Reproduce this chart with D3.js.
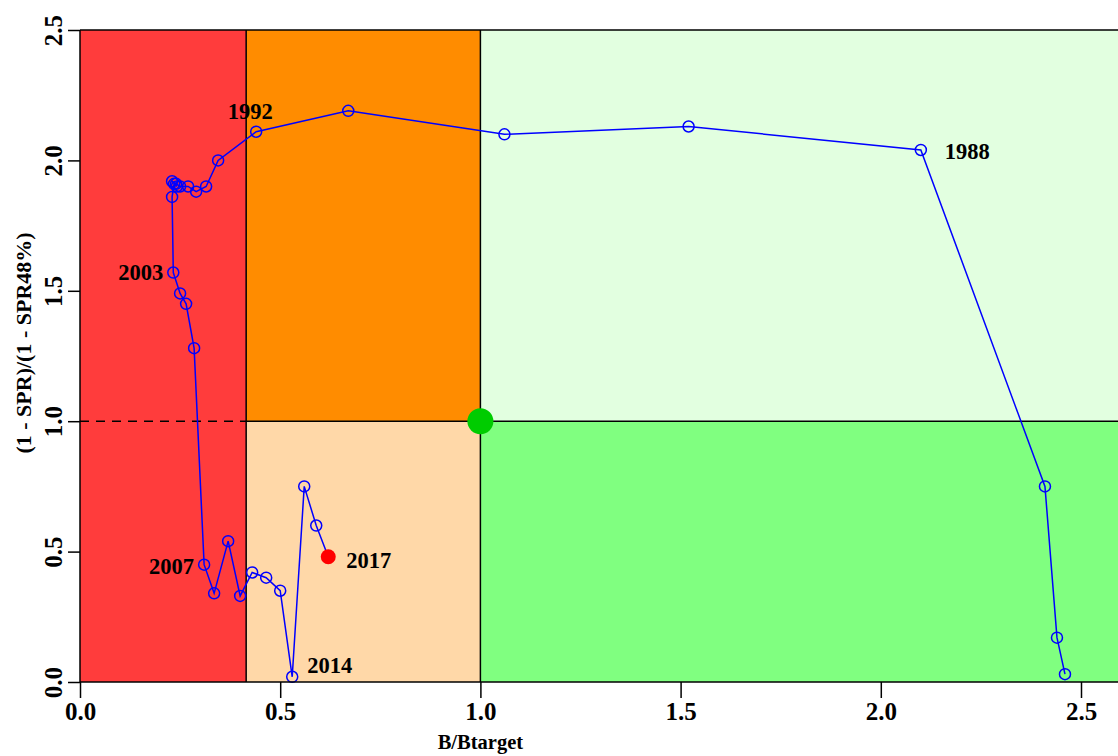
<!DOCTYPE html>
<html>
<head>
<meta charset="utf-8">
<script src="https://cdn.jsdelivr.net/npm/d3@7"></script>
<style>
  html, body { margin: 0; padding: 0; background: #ffffff; }
  svg { display: block; }
  text { font-family: "Liberation Serif", "Times New Roman", serif; font-weight: bold; fill: #000; }
</style>
</head>
<body>
<svg id="chart" width="1118" height="756"></svg>
<script>
// Stock trajectory: relative biomass vs relative fishing pressure, 1985-2017
const years = [1985, 1986, 1987, 1988, 1989, 1990, 1991, 1992, 1993, 1994,
               1995, 1996, 1997, 1998, 1999, 2000, 2001, 2002, 2003, 2004,
               2005, 2006, 2007, 2008, 2009, 2010, 2011, 2012, 2013, 2014,
               2015, 2016, 2017];
const bRatio = [2.46, 2.44, 2.41, 2.10, 1.52, 1.06, 0.67, 0.44, 0.345, 0.315,
                0.29, 0.27, 0.25, 0.24, 0.23, 0.242, 0.235, 0.23, 0.233, 0.25,
                0.265, 0.285, 0.31, 0.335, 0.37, 0.40, 0.43, 0.465, 0.50, 0.53,
                0.56, 0.59, 0.62];
const fRatio = [0.03, 0.17, 0.75, 2.04, 2.13, 2.10, 2.19, 2.11, 2.00, 1.90,
                1.88, 1.90, 1.90, 1.91, 1.92, 1.90, 1.91, 1.86, 1.57, 1.49,
                1.45, 1.28, 0.45, 0.34, 0.54, 0.33, 0.42, 0.40, 0.35, 0.02,
                0.75, 0.60, 0.48];
const labelledYears = [1988, 1992, 2003, 2007, 2014, 2017];

const xTicks = [0.0, 0.5, 1.0, 1.5, 2.0, 2.5];
const yTicks = [0.0, 0.5, 1.0, 1.5, 2.0, 2.5];

// Reference points
const bLimit = 0.415;   // limit biomass relative to target
const bTarget = 1.0;
const fTarget = 1.0;

const svg = d3.select("#chart");
const x = d3.scaleLinear().domain([0, 2.6]).range([80, 80 + 2.6 * 400.4]);
const y = d3.scaleLinear().domain([0, 2.5]).range([682, 30]);
const xMax = 2.6, yMax = 2.5;

// Status zones
const zones = [
  { x0: 0, x1: bLimit, y0: 0, y1: yMax, fill: "#ff3c3c" },
  { x0: bLimit, x1: bTarget, y0: fTarget, y1: yMax, fill: "#ff8c00" },
  { x0: bLimit, x1: bTarget, y0: 0, y1: fTarget, fill: "#ffd8a8" },
  { x0: bTarget, x1: xMax, y0: fTarget, y1: yMax, fill: "#e2ffe0" },
  { x0: bTarget, x1: xMax, y0: 0, y1: fTarget, fill: "#80ff80" }
];
svg.append("g").selectAll("rect").data(zones).join("rect")
  .attr("x", d => x(d.x0))
  .attr("y", d => y(d.y1))
  .attr("width", d => x(d.x1) - x(d.x0))
  .attr("height", d => y(d.y0) - y(d.y1))
  .attr("fill", d => d.fill);

// Zone boundary lines
const g = svg.append("g").attr("stroke", "#000").attr("stroke-width", 1.5);
g.append("line").attr("x1", x(0)).attr("x2", x(bLimit))
  .attr("y1", y(fTarget)).attr("y2", y(fTarget))
  .attr("stroke-dasharray", "9,7");
g.append("line").attr("x1", x(bLimit)).attr("x2", x(xMax))
  .attr("y1", y(fTarget)).attr("y2", y(fTarget));
g.append("line").attr("x1", x(bLimit)).attr("x2", x(bLimit))
  .attr("y1", y(0)).attr("y2", y(yMax));
g.append("line").attr("x1", x(bTarget)).attr("x2", x(bTarget))
  .attr("y1", y(0)).attr("y2", y(yMax));

// Target point
svg.append("circle").attr("cx", x(bTarget)).attr("cy", y(fTarget))
  .attr("r", 13).attr("fill", "#00cc00");

// Trajectory
const pts = years.map((yr, i) => ({ yr, b: bRatio[i], f: fRatio[i] }));
svg.append("path").datum(pts)
  .attr("fill", "none").attr("stroke", "#0000ff").attr("stroke-width", 1.5)
  .attr("d", d3.line().x(d => x(d.b)).y(d => y(d.f)));
svg.append("g").selectAll("circle").data(pts.slice(0, -1)).join("circle")
  .attr("cx", d => x(d.b)).attr("cy", d => y(d.f)).attr("r", 5.5)
  .attr("fill", "none").attr("stroke", "#0000ff").attr("stroke-width", 1.5);
const last = pts[pts.length - 1];
svg.append("circle").attr("cx", x(last.b)).attr("cy", y(last.f))
  .attr("r", 7.5).attr("fill", "#ff0000");

// Year labels
const labelPos = {
  1988: { dx: 24, dy: 1, anchor: "start" },
  1992: { dx: -6, dy: -21, anchor: "middle" },
  2003: { dx: -10, dy: 0, anchor: "end" },
  2007: { dx: -10, dy: 1, anchor: "end" },
  2014: { dx: 15, dy: -12, anchor: "start" },
  2017: { dx: 18, dy: 3, anchor: "start" }
};
svg.append("g").selectAll("text").data(pts.filter(d => labelledYears.includes(d.yr))).join("text")
  .attr("x", d => x(d.b) + labelPos[d.yr].dx)
  .attr("y", d => y(d.f) + labelPos[d.yr].dy)
  .attr("dy", "0.35em")
  .attr("text-anchor", d => labelPos[d.yr].anchor)
  .style("font-size", "22.5px")
  .text(d => d.yr);

// Plot frame
const frame = svg.append("g").attr("stroke", "#000").attr("stroke-width", 1.5);
frame.append("line").attr("x1", x(0)).attr("x2", 1118).attr("y1", y(yMax)).attr("y2", y(yMax));
frame.append("line").attr("x1", x(0)).attr("x2", 1118).attr("y1", y(0)).attr("y2", y(0));
frame.append("line").attr("x1", x(0)).attr("x2", x(0)).attr("y1", y(0)).attr("y2", y(yMax));

// Axes
const xAxis = svg.append("g").attr("transform", `translate(0,${y(0)})`)
  .call(d3.axisBottom(x).tickValues(xTicks).tickFormat(d3.format(".1f")).tickSize(16).tickPadding(4));
xAxis.select(".domain").remove();
xAxis.selectAll("line").attr("stroke-width", 1.5);
xAxis.selectAll("text").style("font-size", "25px")
  .style("font-family", "'Liberation Serif', serif").style("font-weight", "bold");

const yAxis = svg.append("g").attr("transform", `translate(${x(0)},0)`)
  .call(d3.axisLeft(y).tickValues(yTicks).tickFormat(d3.format(".1f")).tickSize(12).tickPadding(0));
yAxis.select(".domain").remove();
yAxis.selectAll("line").attr("stroke-width", 1.5);
yAxis.selectAll("text")
  .attr("x", null).attr("dy", null)
  .attr("text-anchor", "middle")
  .attr("transform", "translate(-18,0) rotate(-90)")
  .style("font-size", "25px")
  .style("font-family", "'Liberation Serif', serif").style("font-weight", "bold");

// Axis titles
svg.append("text").attr("x", x(1.0)).attr("y", 749)
  .attr("text-anchor", "middle").style("font-size", "20.5px").text("B/Btarget");
svg.append("text")
  .attr("transform", `translate(31,${y(1.30)}) rotate(-90)`)
  .attr("text-anchor", "middle").style("font-size", "22px")
  .text("(1 - SPR)/(1 - SPR48%)");
</script>
</body>
</html>
